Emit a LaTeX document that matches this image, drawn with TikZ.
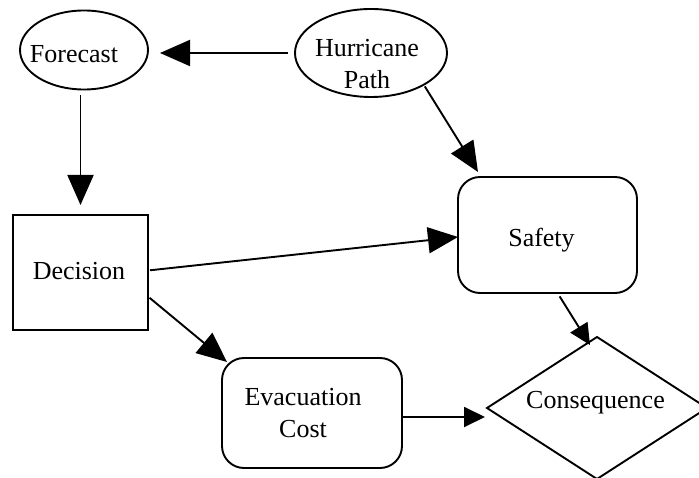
\documentclass[tikz,border=0pt]{standalone}
\usepackage{fontspec}
\setmainfont{Liberation Serif}
\usetikzlibrary{arrows.meta,shapes.geometric}
\begin{document}
\begin{tikzpicture}[x=1pt,y=-1pt,
  every node/.style={font=\fontsize{26}{32}\selectfont, inner sep=0pt, outer sep=0pt, align=center},
  chance/.style={ellipse, draw, line width=1.9pt},
  choice/.style={rectangle, draw, line width=1.9pt},
  utility/.style={rectangle, draw, line width=1.9pt, rounded corners=22pt},
  outcome/.style={diamond, draw, line width=1.9pt},
  link/.style={line width=1.9pt, -{Triangle[length=30pt,width=26pt]}},
  smalllink/.style={line width=1.9pt, -{Triangle[length=21pt,width=20pt]}},
]
\useasboundingbox (0,0) rectangle (699,478);
\clip (0,0) rectangle (699,478);

% chance nodes
\node[chance, minimum width=128pt, minimum height=79pt,
      label={[shift={(-10pt,-4.5pt)}]center:Forecast}] (fc) at (84,50) {};
\node[chance, minimum width=152pt, minimum height=88pt,
      label={[shift={(-4pt,-11.5pt)}]center:Hurricane\\Path}] (hp) at (371,53) {};

% decision node
\node[choice, minimum width=135pt, minimum height=115pt,
      label={[shift={(-1.5pt,1.7pt)}]center:Decision}] (dec) at (80.5,272.5) {};

% value nodes
\node[utility, minimum width=179pt, minimum height=116pt,
      label={[shift={(-6pt,-5.6pt)}]center:Safety}] (sf) at (547.5,235) {};
\node[utility, minimum width=180pt, minimum height=110pt,
      label={[shift={(-9pt,0pt)}]center:Evacuation\\Cost}] (ev) at (312,413) {};

% consequence node
\node[outcome, minimum width=220pt, minimum height=142pt,
      label={[shift={(-1.5pt,5pt)}]center:Consequence}] (cq) at (597,408) {};

% influences
\draw[link, shorten <=7pt, shorten >=12pt] (hp.west) -- (hp.west -| fc.east);
\draw[link, shorten <=6pt, shorten >=10pt] (dec.north |- fc.south) -- (dec.north);
\draw[link, shorten <=2pt] (hp.-31) -- ([xshift=20pt,yshift=5pt]sf.north west);
\draw[link, shorten <=2pt] ([yshift=2pt]dec.east) -- ([yshift=-2pt]sf.west);
\draw[link, shorten <=2pt] ([yshift=-24pt]dec.east) -- ([xshift=5pt,yshift=-4pt]ev.north west);
\coordinate (evout) at ([yshift=-4pt]ev.east);
\draw[smalllink, shorten <=1pt, shorten >=2pt] (evout) -- (evout -| cq.west);
\draw[smalllink, shorten <=4pt] ([xshift=10pt]sf.south) -- ([xshift=-7pt,yshift=-8pt]cq.north);
\end{tikzpicture}
\end{document}
